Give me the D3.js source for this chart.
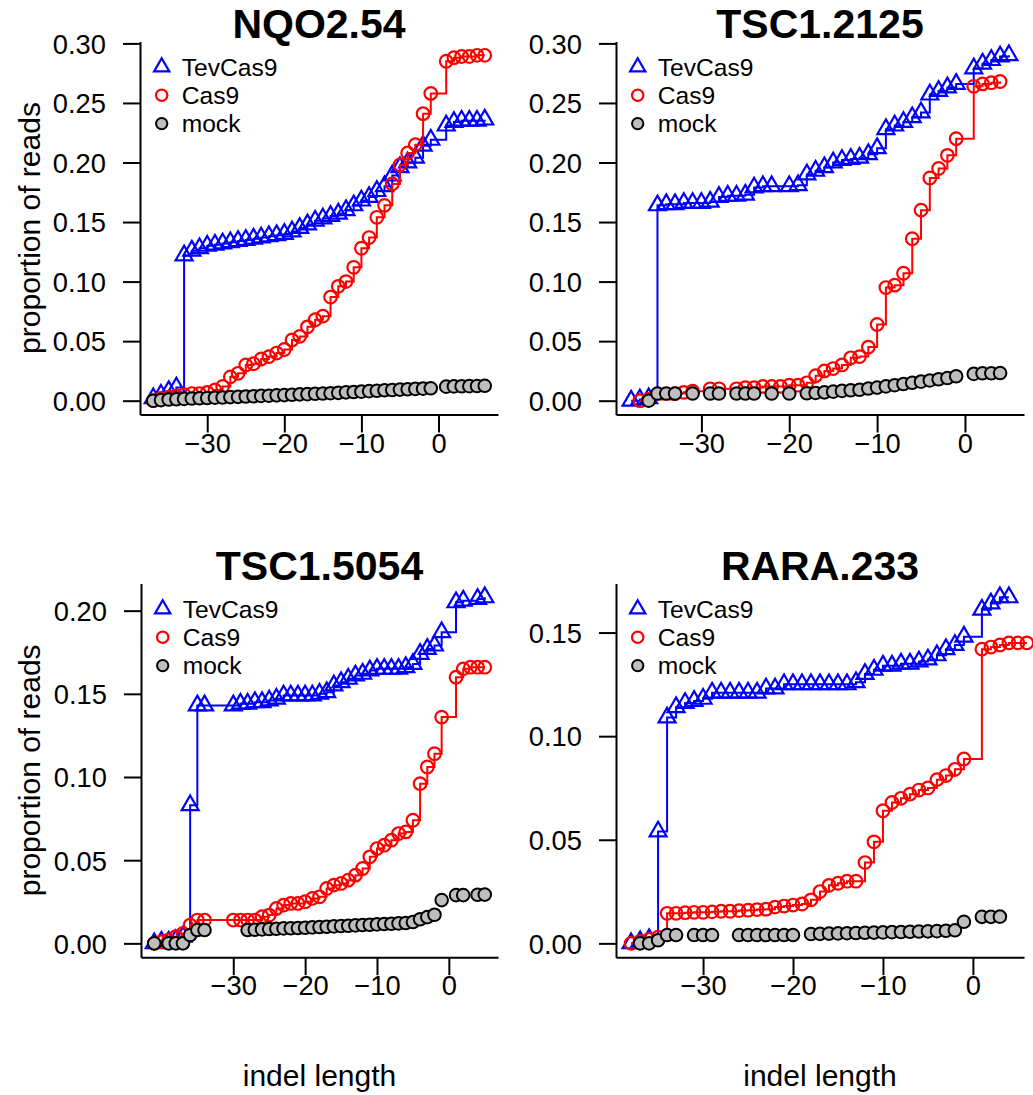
<!DOCTYPE html>
<html><head><meta charset="utf-8">
<script src="https://cdn.jsdelivr.net/npm/d3@7"></script>
<style>
body{margin:0;background:#fff}
svg{display:block}
text{font-family:"Liberation Sans",Arial,Helvetica,sans-serif;fill:#000}
</style>
</head><body>
<svg id="chart" width="1033" height="1095"></svg>
<script>
// ---------- data ----------
const seriesNames = ["TevCas9", "Cas9", "mock"];
const xTickValues = [-30, -20, -10, 0];

// NQO2.54
const nqoTevX = [-37,-36,-35,-34,-33,-32,-31,-30,-29,-28,-27,-26,-25,-24,-23,-22,-21,-20,-19,-18,-17,-16,-15,-14,-13,-12,-11,-10,-9,-8,-7,-6,-5,-4,-3,-2,-1,1,2,3,4,5,6];
const nqoTevY = [0.002,0.005,0.008,0.011,0.122,0.126,0.128,0.130,0.131,0.132,0.133,0.134,0.135,0.136,0.137,0.138,0.139,0.140,0.142,0.145,0.148,0.151,0.153,0.155,0.157,0.160,0.164,0.168,0.171,0.176,0.180,0.189,0.196,0.200,0.204,0.214,0.219,0.231,0.234,0.235,0.235,0.235,0.236];
const nqoCasX = [-37,-36,-35,-34,-33,-32,-31,-30,-29,-28,-27,-26,-25,-24,-23,-22,-21,-20,-19,-18,-17,-16,-15,-14,-13,-12,-11,-10,-9,-8,-7,-6,-5,-4,-3,-2,-1,1,2,3,4,5,6];
const nqoCasY = [0.000,0.002,0.003,0.004,0.005,0.006,0.006,0.007,0.009,0.012,0.020,0.023,0.030,0.031,0.035,0.037,0.040,0.043,0.051,0.054,0.062,0.068,0.071,0.087,0.096,0.100,0.112,0.128,0.137,0.154,0.164,0.182,0.198,0.208,0.215,0.241,0.258,0.285,0.288,0.289,0.289,0.290,0.290];
const nqoMockX = [-37,-36,-35,-34,-33,-32,-31,-30,-29,-28,-27,-26,-25,-24,-23,-22,-21,-20,-19,-18,-17,-16,-15,-14,-13,-12,-11,-10,-9,-8,-7,-6,-5,-4,-3,-2,-1,1,2,3,4,5,6];
const nqoMockY = [0.000,0.0005,0.001,0.0012,0.0015,0.0018,0.002,0.0022,0.0025,0.0027,0.003,0.0032,0.0035,0.0037,0.004,0.0042,0.0045,0.0047,0.005,0.0053,0.0055,0.0058,0.006,0.0063,0.0066,0.007,0.0073,0.0076,0.008,0.0083,0.0087,0.009,0.0093,0.0096,0.0099,0.0101,0.0104,0.0118,0.012,0.0121,0.0122,0.0123,0.0125];

// TSC1.2125
const tsc2125TevX = [-38,-37,-36,-35,-34,-33,-32,-31,-30,-29,-28,-27,-26,-25,-24,-23,-22,-20,-19,-18,-17,-16,-15,-14,-13,-12,-11,-10,-9,-8,-7,-6,-5,-4,-3,-2,-1,1,2,3,4,5];
const tsc2125TevY = [0.000,0.001,0.002,0.164,0.165,0.165,0.166,0.166,0.166,0.167,0.171,0.172,0.172,0.173,0.179,0.180,0.180,0.180,0.181,0.190,0.193,0.196,0.200,0.202,0.203,0.204,0.207,0.212,0.228,0.231,0.234,0.238,0.242,0.257,0.260,0.263,0.266,0.279,0.283,0.286,0.289,0.290];
const tsc2125CasX = [-37,-36,-33,-32,-31,-29,-28,-26,-25,-24,-23,-22,-21,-20,-19,-18,-17,-16,-15,-14,-13,-12,-11,-10,-9,-8,-7,-6,-5,-4,-3,-2,-1,1,2,3,4];
const tsc2125CasY = [0.000,0.001,0.006,0.007,0.008,0.010,0.010,0.010,0.011,0.011,0.012,0.012,0.012,0.013,0.013,0.015,0.021,0.025,0.027,0.030,0.036,0.037,0.045,0.064,0.095,0.097,0.107,0.136,0.160,0.187,0.195,0.206,0.220,0.264,0.266,0.267,0.268];
const tsc2125MockX = [-36,-35,-34,-33,-31,-29,-28,-26,-25,-24,-22,-20,-18,-17,-16,-15,-14,-13,-12,-11,-10,-9,-8,-7,-6,-5,-4,-3,-2,-1,1,2,3,4];
const tsc2125MockY = [0.000,0.006,0.006,0.006,0.006,0.006,0.006,0.006,0.006,0.006,0.006,0.006,0.0062,0.0065,0.007,0.0076,0.0082,0.0087,0.0092,0.0102,0.011,0.012,0.013,0.014,0.015,0.016,0.017,0.018,0.019,0.0205,0.0225,0.023,0.023,0.0232];

// TSC1.5054
const tsc5054TevX = [-41,-40,-39,-38,-37,-36,-35,-34,-30,-29,-28,-27,-26,-25,-24,-23,-22,-21,-20,-19,-18,-17,-16,-15,-14,-13,-12,-11,-10,-9,-8,-7,-6,-5,-4,-3,-2,-1,1,2,4,5];
const tsc5054TevY = [0.000,0.001,0.001,0.002,0.004,0.083,0.143,0.143,0.143,0.144,0.144,0.145,0.145,0.146,0.147,0.149,0.149,0.149,0.149,0.149,0.150,0.151,0.155,0.157,0.159,0.161,0.162,0.164,0.165,0.165,0.165,0.165,0.166,0.168,0.174,0.177,0.179,0.187,0.205,0.206,0.207,0.208];
const tsc5054CasX = [-41,-40,-39,-38,-37,-36,-35,-34,-30,-29,-28,-27,-26,-25,-24,-23,-22,-21,-20,-19,-18,-17,-16,-15,-14,-13,-12,-11,-10,-9,-8,-7,-6,-5,-4,-3,-2,-1,1,2,3,4,5];
const tsc5054CasY = [0.000,0.001,0.002,0.004,0.006,0.011,0.014,0.014,0.014,0.014,0.014,0.014,0.016,0.017,0.021,0.023,0.024,0.024,0.025,0.027,0.028,0.033,0.035,0.036,0.038,0.041,0.045,0.052,0.057,0.059,0.062,0.066,0.067,0.074,0.096,0.106,0.114,0.136,0.160,0.165,0.166,0.166,0.166];
const tsc5054MockX = [-41,-39,-38,-37,-36,-35,-34,-28,-27,-26,-25,-24,-23,-22,-21,-20,-19,-18,-17,-16,-15,-14,-13,-12,-11,-10,-9,-8,-7,-6,-5,-4,-3,-2,-1,1,2,4,5];
const tsc5054MockY = [0.000,0.000,0.000,0.000,0.005,0.008,0.008,0.0080,0.0082,0.0084,0.0086,0.0088,0.0090,0.0091,0.0092,0.0094,0.0096,0.0098,0.0100,0.0102,0.0104,0.0106,0.0108,0.0110,0.0112,0.0114,0.0116,0.0118,0.0120,0.0122,0.0128,0.0145,0.0158,0.0172,0.0260,0.029,0.029,0.0292,0.0293];

// RARA.233
const raraTevX = [-38,-37,-36,-35,-34,-33,-32,-31,-30,-29,-28,-27,-26,-25,-24,-23,-22,-21,-20,-19,-18,-17,-16,-15,-14,-13,-12,-11,-10,-9,-8,-7,-6,-5,-4,-3,-2,-1,1,2,3,4];
const raraTevY = [0.000,0.001,0.002,0.054,0.109,0.114,0.116,0.117,0.118,0.121,0.121,0.121,0.121,0.121,0.121,0.123,0.123,0.125,0.125,0.125,0.125,0.125,0.125,0.125,0.125,0.126,0.130,0.132,0.134,0.134,0.135,0.135,0.136,0.137,0.139,0.142,0.144,0.148,0.161,0.164,0.167,0.167];
const raraCasX = [-38,-37,-36,-35,-34,-33,-32,-31,-30,-29,-28,-27,-26,-25,-24,-23,-22,-21,-20,-19,-18,-17,-16,-15,-14,-13,-12,-11,-10,-9,-8,-7,-6,-5,-4,-3,-2,-1,1,2,3,4,5,6];
const raraCasY = [0.000,0.001,0.002,0.003,0.0145,0.0145,0.0148,0.015,0.015,0.0152,0.0155,0.0155,0.0158,0.016,0.0163,0.0165,0.0175,0.018,0.0185,0.019,0.021,0.025,0.028,0.029,0.030,0.030,0.039,0.049,0.064,0.068,0.070,0.072,0.074,0.075,0.079,0.081,0.084,0.089,0.142,0.143,0.144,0.145,0.145,0.145];
const raraMockX = [-37,-36,-35,-34,-33,-31,-30,-29,-26,-25,-24,-23,-22,-21,-20,-18,-17,-16,-15,-14,-13,-12,-11,-10,-9,-8,-7,-6,-5,-4,-3,-2,-1,1,2,3];
const raraMockY = [0.000,0.000,0.0015,0.004,0.004,0.004,0.004,0.004,0.004,0.004,0.004,0.004,0.004,0.004,0.004,0.0045,0.0046,0.0047,0.0048,0.0049,0.0050,0.0051,0.0052,0.0053,0.0054,0.0055,0.0056,0.0057,0.0058,0.0059,0.0061,0.0063,0.0104,0.0128,0.0128,0.0129];

const yTicksTop = [0, 0.05, 0.10, 0.15, 0.20, 0.25, 0.30];
const yTicks5054 = [0, 0.05, 0.10, 0.15, 0.20];
const yTicksRara = [0, 0.05, 0.10, 0.15];

// ---------- layout ----------
const panels = [
  {title:"NQO2.54",   L:140, R:498,  T:41.5, B:414.5, yTicks:yTicksTop,  ylab:true,  xlab:false,
   tev:[nqoTevX,nqoTevY], cas:[nqoCasX,nqoCasY], mock:[nqoMockX,nqoMockY]},
  {title:"TSC1.2125", L:616, R:1024, T:41.5, B:414.5, yTicks:yTicksTop,  ylab:false, xlab:false,
   tev:[tsc2125TevX,tsc2125TevY], cas:[tsc2125CasX,tsc2125CasY], mock:[tsc2125MockX,tsc2125MockY]},
  {title:"TSC1.5054", L:141, R:498,  T:583.5, B:957.2, yTicks:yTicks5054, ylab:true,  xlab:true,
   tev:[tsc5054TevX,tsc5054TevY], cas:[tsc5054CasX,tsc5054CasY], mock:[tsc5054MockX,tsc5054MockY]},
  {title:"RARA.233",  L:616, R:1024, T:583.5, B:957.2, yTicks:yTicksRara, ylab:false, xlab:true,
   tev:[raraTevX,raraTevY], cas:[raraCasX,raraCasY], mock:[raraMockX,raraMockY]}
];

const FS_AXIS = 27.3, FS_LAB = 30, FS_MAIN = 41, FS_LEG = 24.6;
const CIRC_R = 6.3, TRI_K = 1.5551;
const BLUE = "#0000ff", RED = "#ff0000", GREY = "#bebebe";

const svg = d3.select("#chart");
const minus = d => d < 0 ? "\u2212" + Math.abs(d) : String(d);

function triPath(r) {
  const R = TRI_K * r, xc = R * Math.sqrt(3) / 2, yc = R / 2;
  return `M0,${-R}L${xc},${yc}L${-xc},${yc}Z`;
}
function rPad(ext) { const d = ext[1] - ext[0]; return [ext[0] - 0.04 * d, ext[1] + 0.04 * d]; }

panels.forEach((p, i) => {
  const zip = s => d3.zip(s[0], s[1]);
  const tev = zip(p.tev), cas = zip(p.cas), mock = zip(p.mock);
  const allY = [...tev, ...cas, ...mock].map(d => d[1]);
  const x = d3.scaleLinear().domain(rPad(d3.extent(tev, d => d[0]))).range([p.L, p.R]);
  const y = d3.scaleLinear().domain(rPad([Math.min(0, d3.min(allY)), d3.max(allY)])).range([p.B, p.T]);

  const g = svg.append("g");

  // axes (box type "l")
  const ax = g.append("g").attr("transform", `translate(${p.L},0)`)
    .call(d3.axisLeft(y).tickValues(p.yTicks).tickFormat(d3.format(".2f")).tickSize(17).tickSizeOuter(0));
  const bx = g.append("g").attr("transform", `translate(0,${p.B})`)
    .call(d3.axisBottom(x).tickValues(xTickValues).tickFormat(minus).tickSize(18).tickSizeOuter(0));
  [ax, bx].forEach(a => {
    a.selectAll("path.domain").attr("stroke", "#000").attr("stroke-width", 2);
    a.selectAll(".tick line").attr("stroke", "#000").attr("stroke-width", 2);
    a.selectAll("text").attr("font-size", FS_AXIS).attr("font-family", null).attr("fill", "#000");
  });
  ax.selectAll("text").attr("x", -34).attr("dy", "0.36em");
  bx.selectAll("text").attr("y", 38).attr("dy", 0);

  // title
  g.append("text").attr("x", (p.L + p.R) / 2).attr("y", p.T - 3.5)
    .attr("text-anchor", "middle").attr("font-size", FS_MAIN).attr("font-weight", "bold").text(p.title);

  if (p.ylab) {
    g.append("text").attr("transform", `translate(40,${(p.T + p.B) / 2}) rotate(-90)`)
      .attr("text-anchor", "middle").attr("font-size", FS_LAB).text("proportion of reads");
  }
  if (p.xlab) {
    g.append("text").attr("x", (p.L + p.R) / 2).attr("y", 1086)
      .attr("text-anchor", "middle").attr("font-size", FS_LAB).text("indel length");
  }

  // data
  const plot = g.append("g");
  const step = d3.line().x(d => x(d[0])).y(d => y(d[1])).curve(d3.curveStepAfter);

  plot.append("path").datum(tev).attr("d", step).attr("fill", "none").attr("stroke", BLUE).attr("stroke-width", 2);
  plot.selectAll("path.tev").data(tev).join("path").attr("class", "tev")
    .attr("transform", d => `translate(${x(d[0])},${y(d[1])})`).attr("d", triPath(CIRC_R))
    .attr("fill", "none").attr("stroke", BLUE).attr("stroke-width", 2.2);

  plot.append("path").datum(cas).attr("d", step).attr("fill", "none").attr("stroke", RED).attr("stroke-width", 2);
  plot.selectAll("circle.cas").data(cas).join("circle").attr("class", "cas")
    .attr("cx", d => x(d[0])).attr("cy", d => y(d[1])).attr("r", CIRC_R)
    .attr("fill", "none").attr("stroke", RED).attr("stroke-width", 2.2);

  plot.selectAll("circle.mock").data(mock).join("circle").attr("class", "mock")
    .attr("cx", d => x(d[0])).attr("cy", d => y(d[1])).attr("r", CIRC_R)
    .attr("fill", GREY).attr("stroke", "#000").attr("stroke-width", 2);

  // legend
  const lg = g.append("g");
  const lx = p.L + 21.7, tx = p.L + 41.7, ly0 = p.T + 25.5, dy = 28.3, lr = CIRC_R * 0.9;
  seriesNames.forEach((name, k) => {
    const yy = ly0 + k * dy;
    if (k === 0) {
      lg.append("path").attr("transform", `translate(${lx},${yy})`).attr("d", triPath(lr))
        .attr("fill", "none").attr("stroke", BLUE).attr("stroke-width", 2.2);
    } else if (k === 1) {
      lg.append("circle").attr("cx", lx).attr("cy", yy).attr("r", lr)
        .attr("fill", "none").attr("stroke", RED).attr("stroke-width", 2.2);
    } else {
      lg.append("circle").attr("cx", lx).attr("cy", yy).attr("r", lr)
        .attr("fill", GREY).attr("stroke", "#000").attr("stroke-width", 2);
    }
    lg.append("text").attr("x", tx).attr("y", yy).attr("dy", "0.36em")
      .attr("font-size", FS_LEG).text(name);
  });
});
</script>
</body></html>
